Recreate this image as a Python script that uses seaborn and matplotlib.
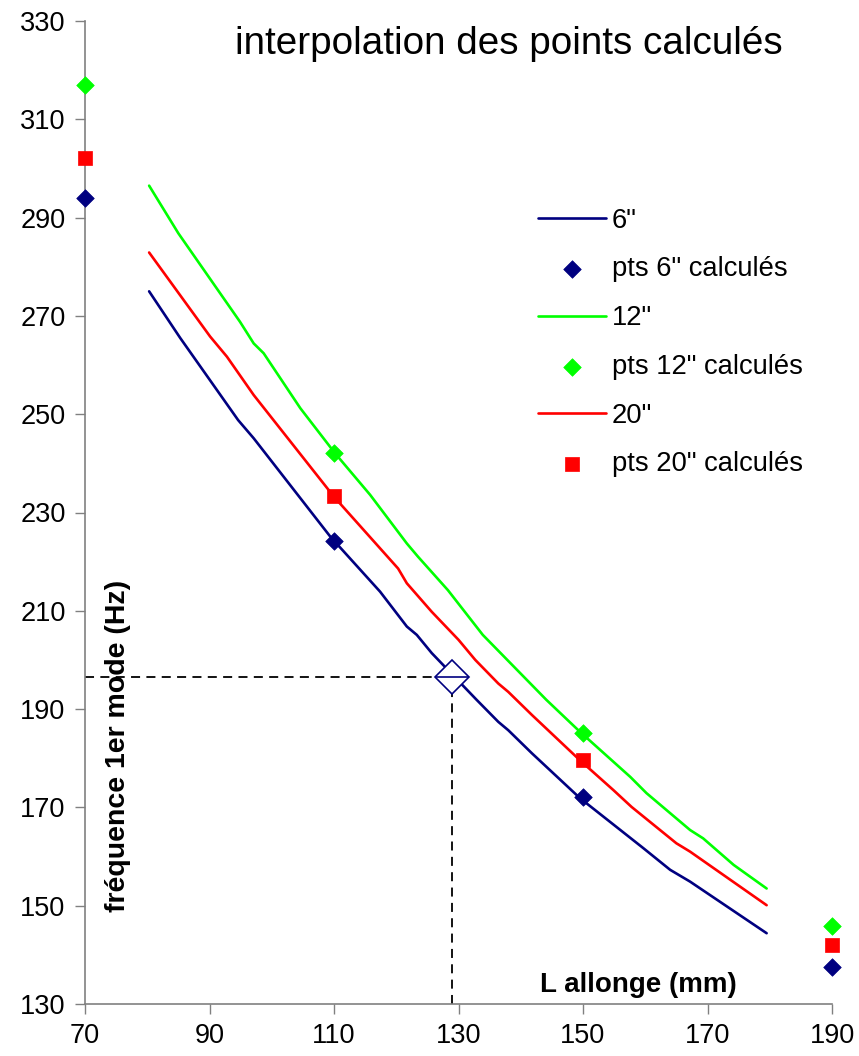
import numpy as np
import pandas as pd
import matplotlib
matplotlib.use("Agg")
import matplotlib.pyplot as plt
import seaborn as sns

# interpolated curves
x_6 = [80.3, 85.3, 94.6, 97.1, 109.4, 117.4, 121.7, 123.3, 125.7, 132.9, 136.4, 138.0,
       141.8, 149.5, 159.7, 164.0, 167.2, 179.5]
f_6 = [275.0, 265.5, 248.8, 245.1, 225.1, 213.9, 206.8, 205.1, 201.4, 191.9, 187.4, 185.7,
       181.0, 171.9, 161.7, 157.3, 154.9, 144.4]

x_12 = [80.3, 85.0, 94.9, 97.1, 98.7, 104.6, 110.2, 115.8, 121.7, 123.5, 128.3, 133.9,
        144.1, 149.5, 157.6, 160.2, 167.2, 169.3, 174.2, 179.5]
f_12 = [296.5, 286.8, 268.8, 264.4, 262.4, 251.2, 242.0, 233.6, 223.7, 221.0, 214.2, 205.1,
        191.9, 185.4, 176.2, 172.9, 165.4, 163.7, 158.3, 153.5]

x_20 = [80.3, 90.1, 92.8, 97.1, 110.0, 120.3, 121.7, 125.7, 130.0, 132.7, 136.4, 138.0,
        141.8, 149.5, 154.9, 157.8, 165.0, 167.2, 179.5]
f_20 = [282.9, 265.8, 261.7, 253.9, 233.2, 218.6, 215.6, 209.8, 204.1, 200.0, 195.2, 193.5,
        188.8, 179.6, 173.5, 170.1, 162.7, 161.0, 150.1]

# calculated points
x_pts = [70, 110, 150, 190]
pts_6 = [294.0, 224.2, 172.1, 137.5]
pts_12 = [317.0, 242.1, 185.1, 145.9]
pts_20 = [302.1, 233.4, 179.6, 142.0]

# read-off point
x_lu = 129.0
f_lu = 196.5

x_ticks = [70, 90, 110, 130, 150, 170, 190]
y_ticks = [130, 150, 170, 190, 210, 230, 250, 270, 290, 310, 330]

NAVY = "#000080"
GREEN = "#00FF00"
RED = "#FF0000"


def main():
    sns.set_style("ticks")
    plt.rcParams["font.family"] = ["Liberation Sans", "DejaVu Sans"]
    plt.rcParams["text.color"] = "black"
    plt.rcParams["xtick.labelcolor"] = "black"
    plt.rcParams["ytick.labelcolor"] = "black"

    fig = plt.figure(figsize=(8.59, 10.56), dpi=100)
    ax = fig.add_axes([85 / 859, 1 - 1004 / 1056, 747 / 859, 983 / 1056])

    series = [
        ('6"', x_6, f_6, pts_6, NAVY, "D", 80),
        ('12"', x_12, f_12, pts_12, GREEN, "D", 80),
        ('20"', x_20, f_20, pts_20, RED, "s", 105),
    ]
    for name, xs, fs, pts, col, mk, sz in series:
        sns.lineplot(x=xs, y=fs, ax=ax, color=col, lw=1.9, sort=False,
                     estimator=None, label=name)
        sns.scatterplot(x=x_pts, y=pts, ax=ax, color=col, marker=mk, s=sz,
                        edgecolor=col, linewidth=0.5, label=f"pts {name} calculés",
                        zorder=3, clip_on=False)

    # dashed read-off lines
    ax.hlines(f_lu, x_ticks[0], x_lu, colors="black", linestyles=(0, (5, 3.5)), lw=1.3)
    ax.vlines(x_lu, y_ticks[0], f_lu, colors="black", linestyles=(0, (5, 3.5)), lw=1.3)
    ax.plot([x_lu], [f_lu], marker="D", ms=17, mfc="white", mec=NAVY, mew=1.2,
            ls="none", zorder=4)
    ax.plot([x_lu], [f_lu], marker="_", ms=24, mec=NAVY, mew=1.2, ls="none", zorder=4)

    ax.set_xlim(x_ticks[0], x_ticks[-1])
    ax.set_ylim(y_ticks[0], y_ticks[-1])
    ax.set_xticks(x_ticks)
    ax.set_yticks(y_ticks)
    ax.tick_params(labelsize=19.5, length=7, width=1, color="#808080", pad=7)
    for side in ["top", "right"]:
        ax.spines[side].set_visible(False)
    for side in ["left", "bottom"]:
        ax.spines[side].set_color("#808080")
        ax.spines[side].set_linewidth(1.2)

    ax.set_xlabel("")
    ax.set_ylabel("")
    ax.text((638 - 85) / 747, (1004 - 985) / 983, "L allonge (mm)", transform=ax.transAxes,
            ha="center", va="center", fontsize=20, fontweight="bold")
    ax.text((118 - 85) / 747, (1004 - 746) / 983, "fréquence 1er mode (Hz)",
            transform=ax.transAxes, ha="center", va="center", rotation=90,
            fontsize=20.5, fontweight="bold")
    ax.text((509 - 85) / 747, (1004 - 44) / 983, "interpolation des points calculés",
            transform=ax.transAxes, ha="center", va="center", fontsize=27.8)

    handles, labels = ax.get_legend_handles_labels()
    ax.legend(handles, labels, frameon=False, fontsize=19.7, loc="upper left",
              bbox_to_anchor=(524 / 859, 1 - 194 / 1056), bbox_transform=fig.transFigure,
              borderpad=0, handlelength=2.5, handletextpad=0.22, labelspacing=0.83)

    fig.savefig("out.png", dpi=100)


if __name__ == "__main__":
    main()
